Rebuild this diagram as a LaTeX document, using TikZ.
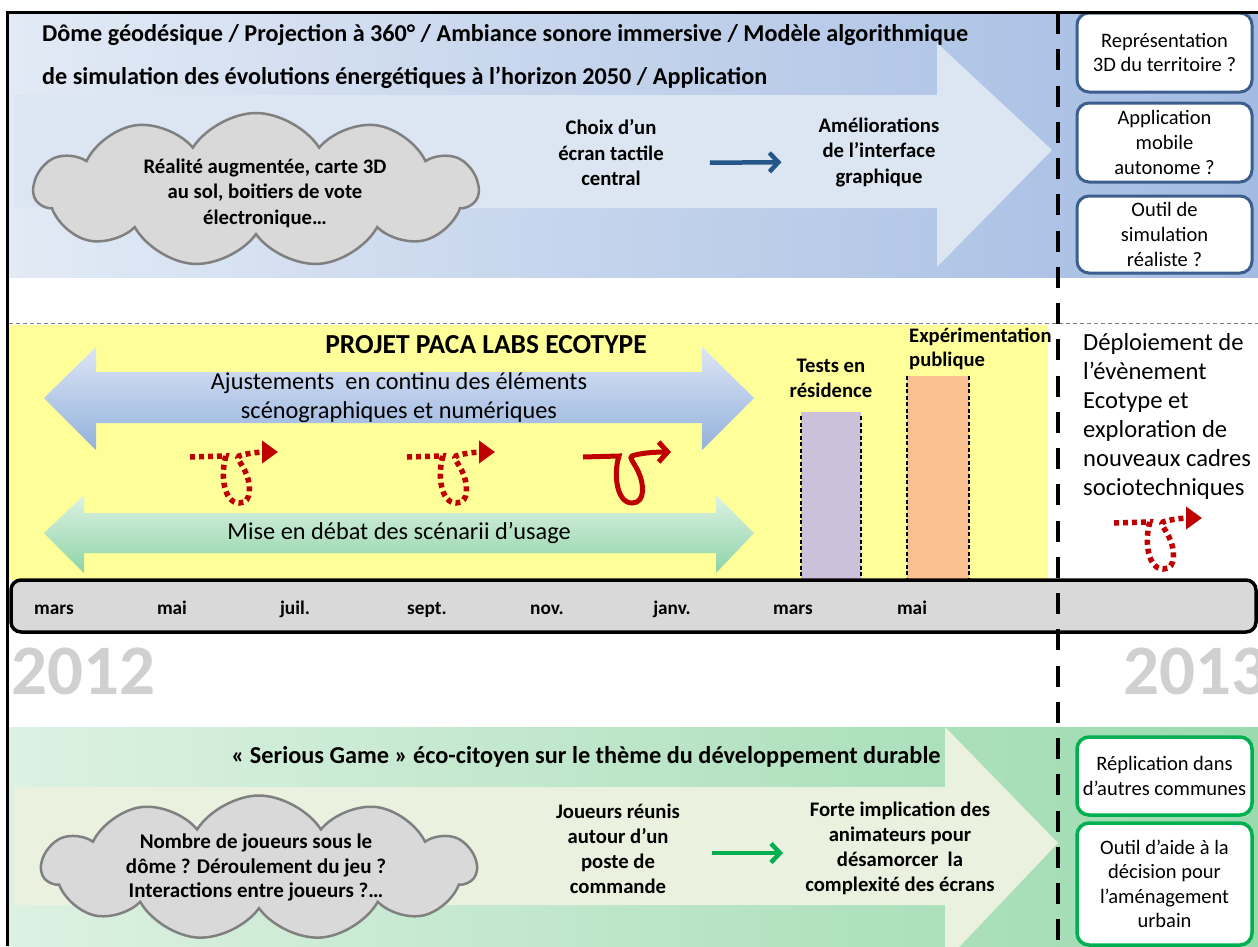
\documentclass[tikz,border=0pt]{standalone}
\usepackage{fontspec}
\setmainfont{Carlito}
\usetikzlibrary{shapes.symbols,arrows.meta}
\definecolor{bandBL}{HTML}{E2EAF5}
\definecolor{bandBR}{HTML}{A3BBE2}
\definecolor{arrB}{HTML}{DCE6F2}
\definecolor{yel}{HTML}{FFFF99}
\definecolor{bandGL}{HTML}{DDF1E2}
\definecolor{bandGR}{HTML}{9BDAAE}
\definecolor{arrG}{HTML}{EAF1DE}
\definecolor{dblBT}{HTML}{DCE5F5}
\definecolor{dblBB}{HTML}{93B1DC}
\definecolor{dblGT}{HTML}{DCF2E4}
\definecolor{dblGB}{HTML}{8ED3A6}
\definecolor{purp}{HTML}{CCC1DA}
\definecolor{orng}{HTML}{FAC090}
\definecolor{tlgray}{HTML}{D9D9D9}
\definecolor{yeargray}{HTML}{D0D0D0}
\definecolor{squigred}{HTML}{C00000}
\definecolor{boxblue}{HTML}{3B5E8C}
\definecolor{boxgreen}{HTML}{00B050}
\definecolor{darrow}{HTML}{25568A}
\definecolor{cloudfill}{HTML}{D9D9D9}
\definecolor{cloudline}{HTML}{808080}
\newcommand\mysquig{(0,0) -- (36,-1) .. controls (30,18) and (34,46) .. (49,46) .. controls (63,46) and (61,26) .. (55,14) .. controls (50,4) and (46,1) .. (49,-1) .. controls (57,-4) and (72,-5) .. (88,-5)}
\begin{document}
\begin{tikzpicture}[x=1pt,y=-1pt,
  bt/.style={font=\bfseries\fontsize{20.7}{25.5}\selectfont, align=center, inner sep=0pt},
  rt/.style={font=\fontsize{24.3}{29}\selectfont, align=center, inner sep=0pt},
  titlet/.style={font=\bfseries\fontsize{24.2}{26}\selectfont, inner sep=0pt, anchor=west},
  month/.style={font=\bfseries\fontsize{19.3}{20}\selectfont, inner sep=0pt, anchor=base},
  yeart/.style={font=\bfseries\fontsize{71}{71}\selectfont, text=yeargray, inner sep=0pt, anchor=west},
  bluebox/.style={draw=boxblue, line width=3pt, fill=white, rounded corners=12pt, align=center, inner sep=0pt, minimum width=175pt, font=\fontsize{20.5}{24.7}\selectfont},
  greenbox/.style={draw=boxgreen, line width=3.5pt, fill=white, rounded corners=12pt, align=center, inner sep=0pt, minimum width=175pt, font=\fontsize{20.5}{24.5}\selectfont},
  cloudshape/.style={cloud, cloud puffs=11, cloud puff arc=115, draw=cloudline, line width=2.5pt, fill=cloudfill, inner sep=0pt},
  squigdotted/.style={squigred, line width=5.5pt, dash pattern=on 5pt off 4pt, -{Triangle[length=16pt,width=22pt]}},
  squigsolid/.style={squigred, line width=5pt, -{Straight Barb[length=9pt,width=20pt]}},
  barline/.style={black, line width=1.5pt, dash pattern=on 4pt off 2.5pt},
]
\useasboundingbox (0,0) rectangle (1258,946);
\fill[white] (0,0) rectangle (1258,946);

% ---------- top band ----------
\shade[left color=bandBL, right color=bandBR] (7,12) rectangle (1258,277);
\fill[arrB] (14,95) -- (937,95) -- (937,43) -- (1052,150) -- (937,267) -- (937,208) -- (14,208) -- cycle;
\node[titlet] (title1) at (42,35) {Dôme géodésique / Projection à 360° / Ambiance sonore immersive / Modèle algorithmique};
\node[titlet] (title2) at (42,78) {de simulation des évolutions énergétiques à l’horizon 2050 / Application};
\node[cloudshape, minimum width=444pt, minimum height=154pt] (cloud1) at (256,190) {};
\node[bt] (cloud1t) at (265,193) {Réalité augmentée, carte 3D\\au sol, boitiers de vote\\électronique…};
\node[bt] (choix) at (611,153) {Choix d’un\\écran tactile\\central};
\node[bt] (amel) at (879,152) {Améliorations\\de l’interface\\graphique};
\draw[darrow, line width=4.5pt, -{Straight Barb[length=9pt,width=19pt]}, shorten <=46pt, shorten >=37pt] ([yshift=-10pt]choix.east) -- ([yshift=-10pt]amel.west);
\node[bluebox, minimum height=79pt] (box1) at (1164.5,52.5) {Représentation\\3D du territoire ?};
\node[bluebox, minimum height=79pt] (box2) at (1164.5,142.5) {Application\\mobile\\autonome ?};
\node[bluebox, minimum height=77pt] (box3) at (1164.5,234.5) {Outil de\\simulation\\réaliste ?};

% ---------- middle band ----------
\draw[gray, line width=1pt, dash pattern=on 4pt off 3pt] (9,323) -- (1258,323);
\fill[yel] (9,325) rectangle (1048,580);
\node[titlet, anchor=center, font=\bfseries\fontsize{27.5}{30}\selectfont] (projet) at (486,345) {PROJET PACA LABS ECOTYPE};
\shade[top color=dblBT, bottom color=dblBB] (44,398) -- (96,347) -- (96,372) -- (702,372) -- (702,347) -- (754,398) -- (702,450) -- (702,423) -- (96,423) -- (96,450) -- cycle;
\node[rt] (ajust) at (399,398) {Ajustements~ en continu des éléments\\scénographiques et numériques};
\shade[top color=dblGT, bottom color=dblGB] (44,533) -- (84,495) -- (84,513) -- (716,513) -- (716,495) -- (754,533) -- (716,573) -- (716,553) -- (84,553) -- (84,573) -- cycle;
\node[rt] (mise) at (399,533) {Mise en débat des scénarii d’usage};
\draw[squigdotted, shift={(190,457)}] \mysquig;
\draw[squigdotted, shift={(407,457)}] \mysquig;
\draw[squigsolid, shift={(583,457)}] \mysquig;
\draw[squigdotted, shift={(1114,523)}] \mysquig;
% bars
\fill[purp] (801,412) rectangle (861,580);
\draw[barline] (801,416) -- (801,580);
\draw[barline] (861,416) -- (861,580);
\fill[orng] (907,376) rectangle (969,580);
\draw[barline] (907,376) -- (907,580);
\draw[barline] (969,376) -- (969,580);
\node[bt, font=\bfseries\fontsize{20.7}{25}\selectfont] (tests) at (831,378.5) {Tests en\\résidence};
\node[bt, font=\bfseries\fontsize{20.6}{24}\selectfont, align=left, anchor=west] (expe) at (909,349) {Expérimentation\\publique};
\node[rt, font=\fontsize{24.6}{29}\selectfont, align=left, anchor=west] (deploy) at (1083,416.5) {Déploiement de\\l’évènement\\Ecotype et\\exploration de\\nouveaux cadres\\sociotechniques};

% ---------- timeline ----------
\draw[rounded corners=10pt, line width=3.5pt, fill=tlgray] (11,580) rectangle (1256,632);
\node[month] (m1) at (54,614) {mars};
\node[month] (m2) at (172,614) {mai};
\node[month] (m3) at (295,614) {juil.};
\node[month] (m4) at (427,614) {sept.};
\node[month] (m5) at (547,614) {nov.};
\node[month] (m6) at (672,614) {janv.};
\node[month] (m7) at (793,614) {mars};
\node[month] (m8) at (912,614) {mai};
\node[yeart] (y2012) at (11,671) {2012};
\node[yeart] (y2013) at (1123,671) {2013};

% ---------- bottom band ----------
\shade[left color=bandGL, right color=bandGR] (7,727) rectangle (1258,946);
\fill[arrG] (14,787) -- (945,787) -- (945,727) -- (1058,843) -- (945,962) -- (945,905) -- (14,905) -- cycle;
\node[titlet, anchor=center, font=\bfseries\fontsize{24.3}{26}\selectfont] (serious) at (586,757) {« Serious Game » éco-citoyen sur le thème du développement durable};
\node[cloudshape, minimum width=434pt, minimum height=145pt] (cloud2) at (259,868) {};
\node[bt, font=\bfseries\fontsize{21}{24.8}\selectfont] (cloud2t) at (256,867.5) {Nombre de joueurs sous le\\dôme ? Déroulement du jeu ?\\Interactions entre joueurs ?…};
\node[bt, font=\bfseries\fontsize{20.7}{25}\selectfont] (joueurs) at (618,848.5) {Joueurs réunis\\autour d’un\\poste de\\commande};
\node[bt, font=\bfseries\fontsize{20.7}{25}\selectfont] (forte) at (900,848.5) {Forte implication des\\animateurs pour\\désamorcer~ la\\complexité des écrans};
\draw[boxgreen, line width=4.5pt, -{Straight Barb[length=9pt,width=19pt]}, shorten <=32pt, shorten >=22pt] ([yshift=-4.5pt]joueurs.east) -- ([yshift=-4.5pt]forte.west);
\node[greenbox, minimum height=78pt] (gbox1) at (1164.5,776) {Réplication dans\\d’autres communes};
\node[greenbox, minimum height=122pt] (gbox2) at (1164.5,884) {Outil d’aide à la\\décision pour\\l’aménagement\\urbain};

% ---------- separators and frame ----------
\draw[black, line width=4pt, dash pattern=on 21pt off 15.25pt] (1058,13) -- (1058,946);
\draw[black, line width=3pt] (7,946) -- (7,12) -- (1258,12);
\end{tikzpicture}
\end{document}
